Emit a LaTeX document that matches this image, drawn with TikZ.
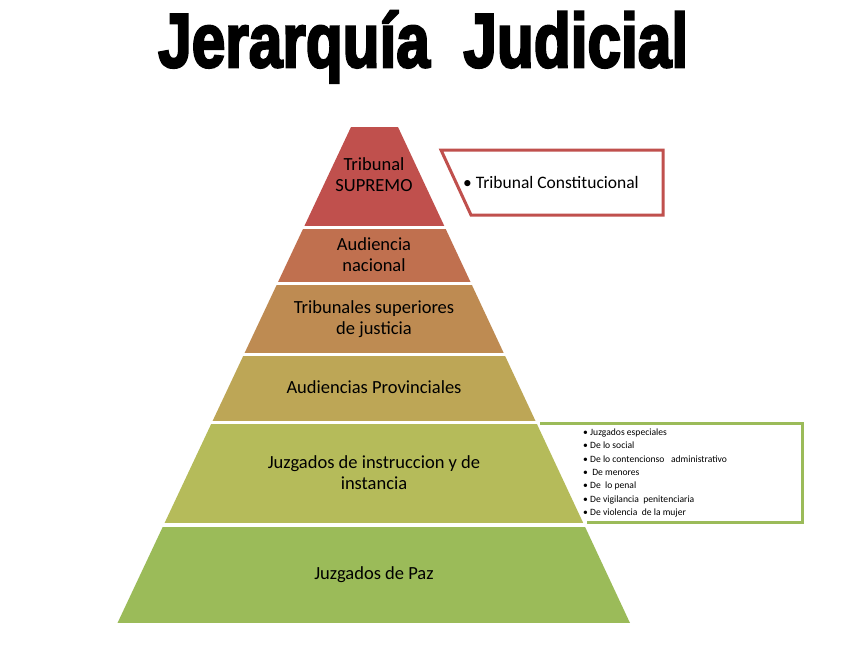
\documentclass[tikz,border=0pt]{standalone}
\usepackage{fontspec}
\usepackage{graphicx}
\setmainfont{Carlito}
\newfontfamily\titlefont{Liberation Sans Bold}[FakeBold=3.5]
\definecolor{cA}{HTML}{C0504D}
\definecolor{cB}{HTML}{C0704F}
\definecolor{cC}{HTML}{BE8B52}
\definecolor{cD}{HTML}{BDA656}
\definecolor{cE}{HTML}{B5BB5A}
\definecolor{cF}{HTML}{9BBB59}
\tikzset{
  lvl/.style={font=\fontsize{18.5}{21}\selectfont, align=center, inner sep=0pt, text=black},
  smalltxt/.style={font=\fontsize{9.6}{13}\selectfont, inner sep=0pt, anchor=base west, text=black},
  callout/.style={line width=3pt, line join=miter}
}
\begin{document}
\begin{tikzpicture}[x=1pt,y=-1pt]
\useasboundingbox (0,0) rectangle (844,667);
\fill[white] (0,0) rectangle (844,667);
% title
\node[anchor=base west, inner sep=0pt] (title) at (158,67)
  {\resizebox{530pt}{56pt}{\titlefont Jerarquía\ \ Judicial}};
% side boxes
\draw[callout, draw=cF, fill=white] (540,423) -- (802,423) -- (802,522) -- (587,522);
\draw[callout, draw=cA, fill=white] (441,150) -- (663,150) -- (663,215) -- (471,215) -- cycle;
% pyramid
\begin{scope}
\clip (351,127) -- (398,127) -- (630,623) -- (117.5,623) -- cycle;
\fill[cA] (0,127) rectangle (844,226);
\fill[cB] (0,229) rectangle (844,282);
\fill[cC] (0,285) rectangle (844,353);
\fill[cD] (0,356) rectangle (844,421);
\fill[cE] (0,424) rectangle (844,523);
\fill[cF] (0,527) rectangle (844,623);
\end{scope}
% labels
\node[lvl] (t1) at (374,175) {Tribunal\\SUPREMO};
\node[lvl] (t2) at (374,255) {Audiencia\\nacional};
\node[lvl] (t3) at (374,319) {Tribunales superiores\\de justicia};
\node[lvl] (t4) at (374,387) {Audiencias Provinciales};
\node[lvl] (t5) at (374,473) {Juzgados de instruccion y de\\instancia};
\node[lvl] (t6) at (374,575) {Juzgados de Paz};
\node[font=\fontsize{17.5}{21}\selectfont, anchor=base west, inner sep=0pt] (tc) at (463,188.5) {• Tribunal Constitucional};
% small list
\node[smalltxt] (s1) at (583,435.5) {• Juzgados especiales};
\node[smalltxt] (s2) at (583,448.8) {• De lo social};
\node[smalltxt] (s3) at (583,462.1) {• De lo contencionso\ \ \ administrativo};
\node[smalltxt] (s4) at (583,475.4) {•\ \ De menores};
\node[smalltxt] (s5) at (583,488.7) {• De\ \ lo penal};
\node[smalltxt] (s6) at (583,502.0) {• De vigilancia\ \ penitenciaria};
\node[smalltxt] (s7) at (583,515.3) {• De violencia\ \ de la mujer};
\end{tikzpicture}
\end{document}
